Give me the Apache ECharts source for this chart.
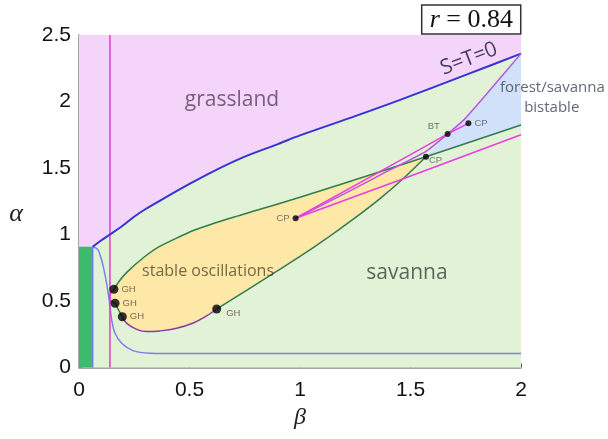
<!DOCTYPE html>
<html><head><meta charset="utf-8">
<script src="https://cdn.jsdelivr.net/npm/echarts@6/dist/echarts.min.js"></script>
<style>html,body{margin:0;padding:0;background:#fff}#c{width:608px;height:439px}</style>
</head><body><div id="c"></div>
<script>
// ---- data (β, α) ----
const xTicks = [0, 0.5, 1, 1.5, 2];
const yTicks = [0, 0.5, 1, 1.5, 2, 2.5];
const plotBox = [[0,0],[2,0],[2,2.5],[0,2.5]];
const forestBox = [[0,0],[0.062,0],[0.062,0.908],[0,0.908]];
const stCurve = [[0.062,0.908],[0.1,0.955],[0.14,1.0],[0.2,1.07],[0.246,1.13],[0.3,1.19],[0.367,1.255],[0.5,1.38],[0.608,1.475],[0.75,1.585],[0.9,1.68],[1.0,1.745],[1.25,1.89],[1.45,2.01],[1.75,2.2],[2.0,2.36]];
const lowBlue = [[0.062,0.908],[0.075,0.9],[0.087,0.883],[0.098,0.833],[0.11,0.758],[0.125,0.633],[0.137,0.5],[0.148,0.357],[0.163,0.257],[0.193,0.182],[0.246,0.125],[0.32,0.108],[0.5,0.105],[1.0,0.105],[2.0,0.105]];
const forestEdge = [[0.062,0],[0.062,0.908]];
const magVertical = [[0.14,0],[0.14,2.5]];
const greenUpper = [[0.158,0.588],[0.18,0.645],[0.216,0.715],[0.291,0.825],[0.367,0.912],[0.517,1.03],[0.668,1.115],[0.8,1.18],[1.0,1.28],[1.2,1.385],[1.362,1.472],[1.57,1.585],[2.0,1.823]];
const greenLower = [[0.623,0.44],[0.7,0.52],[0.849,0.675],[1.0,0.835],[1.12,0.97],[1.241,1.115],[1.362,1.27],[1.47,1.425],[1.57,1.585]];
const purpleBottom = [[0.196,0.382],[0.216,0.332],[0.261,0.287],[0.306,0.27],[0.367,0.275],[0.442,0.295],[0.517,0.335],[0.57,0.38],[0.623,0.44]];
const greenGH = [[0.163,0.483],[0.18,0.43],[0.196,0.382]];
const magArc = [[0.158,0.588],[0.145,0.565],[0.139,0.535],[0.145,0.5],[0.163,0.483]];
const magUpper = [[0.98,1.122],[1.3,1.416],[1.5,1.6],[1.668,1.756],[1.762,1.836]];
const magLower = [[0.98,1.122],[1.452,1.41],[2.0,1.75]];
const violet = [[2.0,2.36],[1.82,2.01],[1.74,1.86],[1.668,1.756],[1.57,1.625],[1.4,1.48],[1.2,1.305],[0.98,1.122]];
const bistable = [[1.57,1.585],[1.668,1.756],[1.74,1.86],[1.82,2.01],[2.0,2.36],[2.0,1.823]];
const ghPoints = [[0.158,0.588],[0.163,0.483],[0.196,0.382],[0.623,0.44]];
const cpPoints = [[0.98,1.122],[1.57,1.585],[1.762,1.836]];
const btPoints = [[1.668,1.756]];
const regionNames = ['grassland','savanna','stable oscillations','forest/savanna','bistable','S=T=0'];
const regionPos = [[0.692,2.011],[1.484,0.71],[0.584,0.72],[2.142,2.10],[2.139,1.951],[1.765,2.32]];

// oscillation region polygon from its boundaries
const oscPoly = greenUpper.slice(0, 12)
  .concat(greenLower.slice().reverse())
  .concat(purpleBottom.slice().reverse())
  .concat(greenGH.slice().reverse())
  .concat(magArc.slice().reverse());
const grassPoly = [[0,2.5],[2,2.5]].concat(stCurve.slice().reverse()).concat([[0,0.908]]);

function poly(pts, color, z){
  return {type:'custom', coordinateSystem:'cartesian2d', z:z, silent:true, data:[0],
    renderItem:function(params, api){
      return {type:'polygon', shape:{points:pts.map(p=>api.coord(p))}, style:{fill:color, stroke:null}};
    }};
}
function line(pts, color, w, z, smooth){
  return {type:'line', data:pts, showSymbol:false, smooth:smooth||false, z:z, silent:true,
    lineStyle:{color:color, width:w}, clip:false};
}
const smallLbl = {show:true, fontSize:9.5, color:'#5a4a3a', fontFamily:'Liberation Sans'};

const chart = echarts.init(document.getElementById('c'));
chart.setOption({
  animation:false,
  title:{text:'{i|r} = 0.84', right:87, top:5, borderColor:'#333', borderWidth:1.5, padding:[2,8,1,8],
    textStyle:{fontSize:26, fontWeight:'normal', color:'#111', fontFamily:'Liberation Serif',
      rich:{i:{fontStyle:'italic', fontSize:26, fontFamily:'Liberation Serif', color:'#111'}}}},
  grid:{left:79, right:87, top:35, bottom:71.5},
  xAxis:{type:'value', min:xTicks[0], max:xTicks[xTicks.length-1], interval:0.5,
    axisLine:{lineStyle:{color:'#8a8a8a', width:1.5}},
    axisTick:{inside:true, length:4, lineStyle:{color:'#555'}},
    splitLine:{show:false},
    axisLabel:{fontSize:21, color:'#111', margin:12, fontFamily:'Liberation Sans'},
    name:'β', nameLocation:'middle', nameGap:37,
    nameTextStyle:{fontSize:24, fontStyle:'italic', color:'#222', fontFamily:'Liberation Serif'}},
  yAxis:{type:'value', min:yTicks[0], max:yTicks[yTicks.length-1], interval:0.5,
    axisLine:{show:true, lineStyle:{color:'#8a8a8a', width:1.5}},
    axisTick:{show:true, inside:true, length:4, lineStyle:{color:'#555'}},
    splitLine:{show:false},
    axisLabel:{fontSize:21, color:'#111', margin:8, fontFamily:'Liberation Sans'},
    name:'α', nameLocation:'middle', nameGap:56, nameRotate:0,
    nameTextStyle:{fontSize:26, fontStyle:'italic', color:'#222', fontFamily:'Liberation Serif', verticalAlign:'top'}},
  series:[
    poly(plotBox, '#e2f2d6', 1),
    poly(grassPoly, '#f5d4fa', 2),
    poly(forestBox, '#3dbb6c', 2),
    poly(oscPoly, '#fde8a8', 2),
    poly(bistable, '#d2e1fa', 2),
    line(forestEdge, '#6f7fe6', 1.5, 5),
    line(lowBlue, '#7c7ff0', 1.5, 5, 0.3),
    line(stCurve, '#3434d0', 2, 6, 0.3),
    line(magVertical, '#e43cc8', 1.5, 5),
    line(greenUpper, '#2f7d4c', 1.5, 6, 0.15),
    line(greenLower, '#2f7d4c', 1.5, 6, 0.15),
    line(greenGH, '#2f7d4c', 1.5, 6, 0.3),
    line(purpleBottom, '#8a3aa8', 1.5, 6, 0.4),
    line(magArc, '#e43cc8', 1.5, 6, 0.4),
    line(violet, '#b456e6', 1.5, 7, 0.2),
    line(magUpper, '#ea3ce0', 1.5, 7),
    line(magLower, '#ea3ce0', 1.5, 7),
    {type:'scatter', z:10, symbolSize:9, itemStyle:{color:'#000'}, silent:true,
      data:ghPoints.map((p,i)=>({value:p, label:Object.assign({}, smallLbl, {formatter:'GH',
        position: i===3 ? [14,4] : 'right', distance:3})}))},
    {type:'scatter', z:10, symbolSize:6, itemStyle:{color:'#000'}, silent:true,
      data:cpPoints.map((p,i)=>({value:p, label:Object.assign({}, smallLbl, {formatter:'CP', color:'#555',
        position: i===0 ? 'left' : (i===1 ? [6,2] : 'right'), distance:3})}))},
    {type:'scatter', z:10, symbolSize:6, itemStyle:{color:'#000'}, silent:true,
      data:btPoints.map(p=>({value:p, label:Object.assign({}, smallLbl, {formatter:'BT', color:'#555',
        position:[-17,-10]})}))},
    {type:'scatter', z:12, symbolSize:0, clip:false, silent:true,
      data:regionNames.map((n,i)=>{
        const st = {show:true, position:'inside', formatter:n, fontFamily:'Open Sans'};
        if(i===0) Object.assign(st,{fontSize:21, color:'#54425c'});
        if(i===1) Object.assign(st,{fontSize:21, color:'#36423a'});
        if(i===2) Object.assign(st,{fontSize:16, color:'#54452a'});
        if(i===3||i===4) Object.assign(st,{fontSize:15, color:'#3a4454'});
        if(i===5) Object.assign(st,{fontSize:21, color:'#151535', rotate:21});
        return {value:regionPos[i], label:st};
      })}
  ]
});
</script></body></html>
